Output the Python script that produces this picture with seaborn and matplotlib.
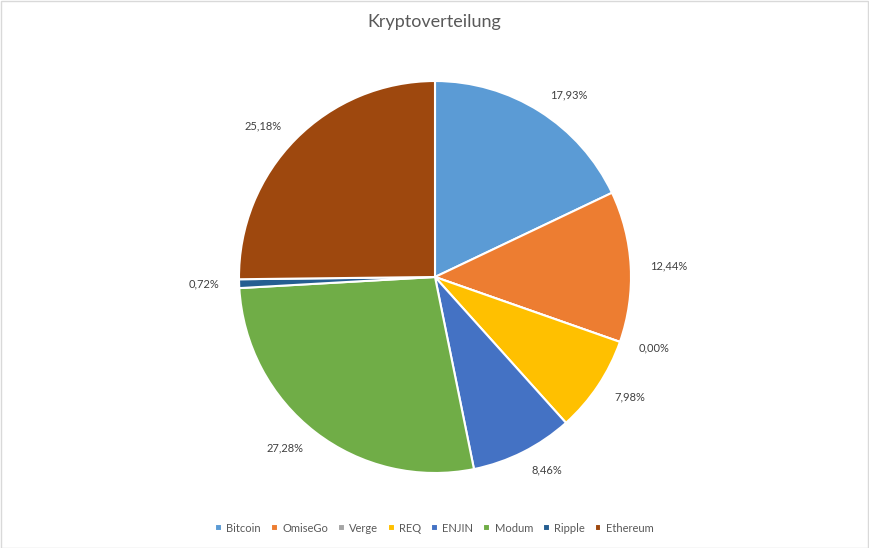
import matplotlib
matplotlib.use("Agg")
import matplotlib.pyplot as plt
import seaborn as sns
from matplotlib.patches import Rectangle

categories = ["Bitcoin", "OmiseGo", "Verge", "REQ", "ENJIN", "Modum", "Ripple", "Ethereum"]
shares = [17.93, 12.44, 0.00, 7.98, 8.46, 27.28, 0.72, 25.18]
colors = ["#5B9BD5", "#ED7D31", "#A5A5A5", "#FFC000", "#4472C4", "#70AD47", "#255E91", "#9E480E"]
title = "Kryptoverteilung"

sns.set_theme(style="white")
plt.rcParams["font.family"] = ["Lato", "DejaVu Sans"]

W, H = 869, 548
fig = plt.figure(figsize=(W / 100, H / 100), dpi=100)
fig.patch.set_facecolor("white")

# pie axes: centre and radius in pixels
cx, cy, r = 435, 277, 196
half = 250
ax = fig.add_axes([(cx - half) / W, (H - cy - half) / H, 2 * half / W, 2 * half / H])
ax.set_aspect("equal")
ax.axis("off")

labels = [f"{v:.2f}%".replace(".", ",") for v in shares]
wedges, texts = ax.pie(
    shares, colors=colors, startangle=90, counterclock=False,
    labels=labels, labeldistance=1.1,
    wedgeprops=dict(edgecolor="white", linewidth=1.5),
    textprops=dict(fontsize=8, color="#404040"),
    normalize=True,
)
ax.set_xlim(-half / r, half / r)
ax.set_ylim(-half / r, half / r)

fig.text(0.5, 1 - 22 / H, title, ha="center", va="center", fontsize=13, color="#595959")

leg = fig.legend(
    wedges, categories, loc="center", bbox_to_anchor=(0.5, 1 - 528 / H), ncol=8,
    frameon=False, fontsize=8, handlelength=0.6, handleheight=0.6,
    handletextpad=0.4, columnspacing=0.9, labelcolor="#595959",
)

fig.add_artist(Rectangle((0.5 / W, 0.5 / H), 1 - 1.5 / W, 1 - 1.5 / H, transform=fig.transFigure,
                         fill=False, edgecolor="#D9D9D9", linewidth=1))

fig.savefig("out.png", dpi=100, facecolor="white")
